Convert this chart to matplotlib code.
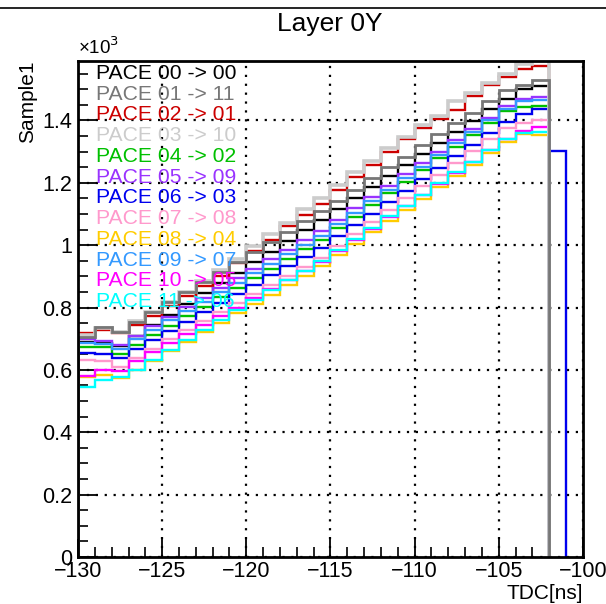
import matplotlib
matplotlib.use("Agg")
import matplotlib.pyplot as plt
import numpy as np
from matplotlib.ticker import MultipleLocator, FuncFormatter
from matplotlib.lines import Line2D

plt.rcParams['font.family'] = ['Liberation Sans', 'DejaVu Sans']

# ---------------- data ----------------
bin_start = -130
labels = ["PACE 00 -> 00", "PACE 01 -> 11", "PACE 02 -> 01", "PACE 03 -> 10",
          "PACE 04 -> 02", "PACE 05 -> 09", "PACE 06 -> 03", "PACE 07 -> 08",
          "PACE 08 -> 04", "PACE 09 -> 07", "PACE 10 -> 05", "PACE 11 -> 06"]
colors = ["#000000", "#777777", "#cc0000", "#cccccc", "#00c000", "#9933ff",
          "#0000ee", "#ff99cc", "#ffcc00", "#3399ff", "#ff00ff", "#00ffff"]

pace00 = [690, 687, 676, 710, 743, 777, 811, 845, 878, 912, 946, 979, 1013, 1047,
          1080, 1115, 1151, 1186, 1222, 1257, 1293, 1328, 1364, 1399, 1435, 1470, 1500, 1510]
pace01 = [706, 738, 720, 752, 785, 817, 849, 882, 914, 946, 979, 1011, 1043, 1076,
          1108, 1143, 1178, 1214, 1249, 1284, 1320, 1355, 1390, 1425, 1461, 1496, 1515, 1528]
pace02 = [717, 727, 717, 745, 773, 805, 837, 870, 900, 943, 980, 1016, 1060, 1096,
          1133, 1176, 1217, 1256, 1300, 1341, 1377, 1403, 1434, 1477, 1512, 1539, 1566, 1573]
pace03 = [712, 735, 722, 757, 786, 818, 850, 885, 920, 954, 996, 1035, 1071, 1115,
          1152, 1192, 1233, 1269, 1310, 1347, 1384, 1413, 1462, 1488, 1520, 1550, 1582, 1605]
pace04 = [674, 672, 650, 681, 711, 742, 772, 803, 833, 864, 894, 925, 955, 986,
          1016, 1054, 1091, 1129, 1166, 1204, 1241, 1279, 1316, 1354, 1391, 1429, 1443, 1446]
pace05 = [698, 693, 679, 710, 740, 771, 801, 832, 862, 893, 923, 954, 984, 1015,
          1045, 1081, 1118, 1154, 1191, 1227, 1263, 1300, 1336, 1372, 1409, 1445, 1468, 1475]
pace06 = [653, 650, 637, 667, 696, 726, 755, 785, 814, 844, 873, 903, 932, 962,
          992, 1028, 1065, 1101, 1138, 1175, 1211, 1248, 1285, 1321, 1358, 1395, 1420, 1435, 1302]
pace07 = [633, 629, 610, 639, 668, 698, 727, 756, 785, 814, 844, 873, 902, 931,
          960, 998, 1036, 1074, 1112, 1150, 1188, 1225, 1263, 1301, 1339, 1377, 1390, 1400]
pace08 = [578, 585, 575, 599, 629, 660, 690, 720, 750, 781, 811, 841, 872, 902,
          932, 968, 1004, 1041, 1077, 1113, 1149, 1185, 1222, 1258, 1294, 1330, 1355, 1354]
pace09 = [685, 682, 668, 698, 728, 759, 789, 819, 849, 879, 910, 940, 970, 1000,
          1030, 1067, 1104, 1141, 1178, 1215, 1252, 1289, 1327, 1364, 1401, 1438, 1461, 1464]
pace10 = [581, 601, 598, 627, 656, 685, 714, 743, 772, 800, 829, 858, 887, 916,
          945, 981, 1017, 1053, 1089, 1125, 1161, 1196, 1232, 1268, 1304, 1340, 1365, 1380]
pace11 = [546, 567, 576, 601, 633, 665, 696, 728, 760, 791, 823, 855, 887, 918,
          950, 985, 1021, 1056, 1092, 1127, 1162, 1198, 1233, 1268, 1304, 1339, 1360, 1363]

series = [pace00, pace01, pace02, pace03, pace04, pace05,
          pace06, pace07, pace08, pace09, pace10, pace11]
draw_order = [0, 2, 4, 5, 6, 7, 8, 9, 10, 11, 3, 1]
widths = {1: 2.0, 3: 2.6}

# ---------------- figure ----------------
W, H = 606, 604
fig = plt.figure(figsize=(W / 100, H / 100), dpi=100)
L, R, T, B = 78, 583, 60.5, 557
ax = fig.add_axes([L / W, 1 - B / H, (R - L) / W, (B - T) / H])

for i in draw_order:
    vals = np.asarray(series[i], dtype=float)
    edges = bin_start + np.arange(len(vals) + 1)
    ax.stairs(vals, edges, baseline=0, fill=False, color=colors[i],
              linewidth=widths.get(i, 1.7), zorder=3)

ax.set_xlim(-130, -100)
ax.set_ylim(0, 1592)

ax.xaxis.set_major_locator(MultipleLocator(5))
ax.xaxis.set_minor_locator(MultipleLocator(1))
ax.yaxis.set_major_locator(MultipleLocator(200))
ax.yaxis.set_minor_locator(MultipleLocator(50))
ax.xaxis.set_major_formatter(FuncFormatter(lambda v, p: f"{int(round(v))}".replace("-", "\u2212")))
ax.yaxis.set_major_formatter(FuncFormatter(lambda v, p: f"{v/1000:g}"))

ax.tick_params(which='major', direction='in', length=13, width=1.3,
               labelsize=15.5, pad=3, top=False, right=False)
ax.tick_params(which='minor', direction='in', length=7, width=1.2,
               top=False, right=False)
ax.tick_params(axis='y', pad=4)
for s in ax.spines.values():
    s.set_linewidth(2)
    s.set_zorder(5)

ax.grid(True, which='major', color='black', linestyle=(0, (1, 3)), linewidth=1.6, zorder=1)
ax.set_axisbelow(True)

ax.text(0, 1.005, "\u00d710$^{3}$", transform=ax.transAxes, ha='left', va='bottom', fontsize=13.5)

ax.set_xlabel("TDC[ns]", fontsize=15, loc='right', labelpad=1)
ax.set_ylabel("Sample1", fontsize=15, loc='top', labelpad=4)

fig.text(330 / W, 1 - 31 / H, "Layer 0Y", ha='center', va='baseline', fontsize=19)
fig.add_artist(Line2D([0, 1], [1 - 8 / H, 1 - 8 / H], transform=fig.transFigure,
                      color='black', linewidth=1.2))

# legend-like coloured labels
for i, lab in enumerate(labels):
    ypx = 73.3 + 20.76 * i
    ax.text((96 - L) / (R - L), (B - ypx) / (B - T), lab, transform=ax.transAxes,
            color=colors[i], fontsize=15.2, ha='left', va='center', zorder=6)

fig.savefig("out.png", dpi=100)
